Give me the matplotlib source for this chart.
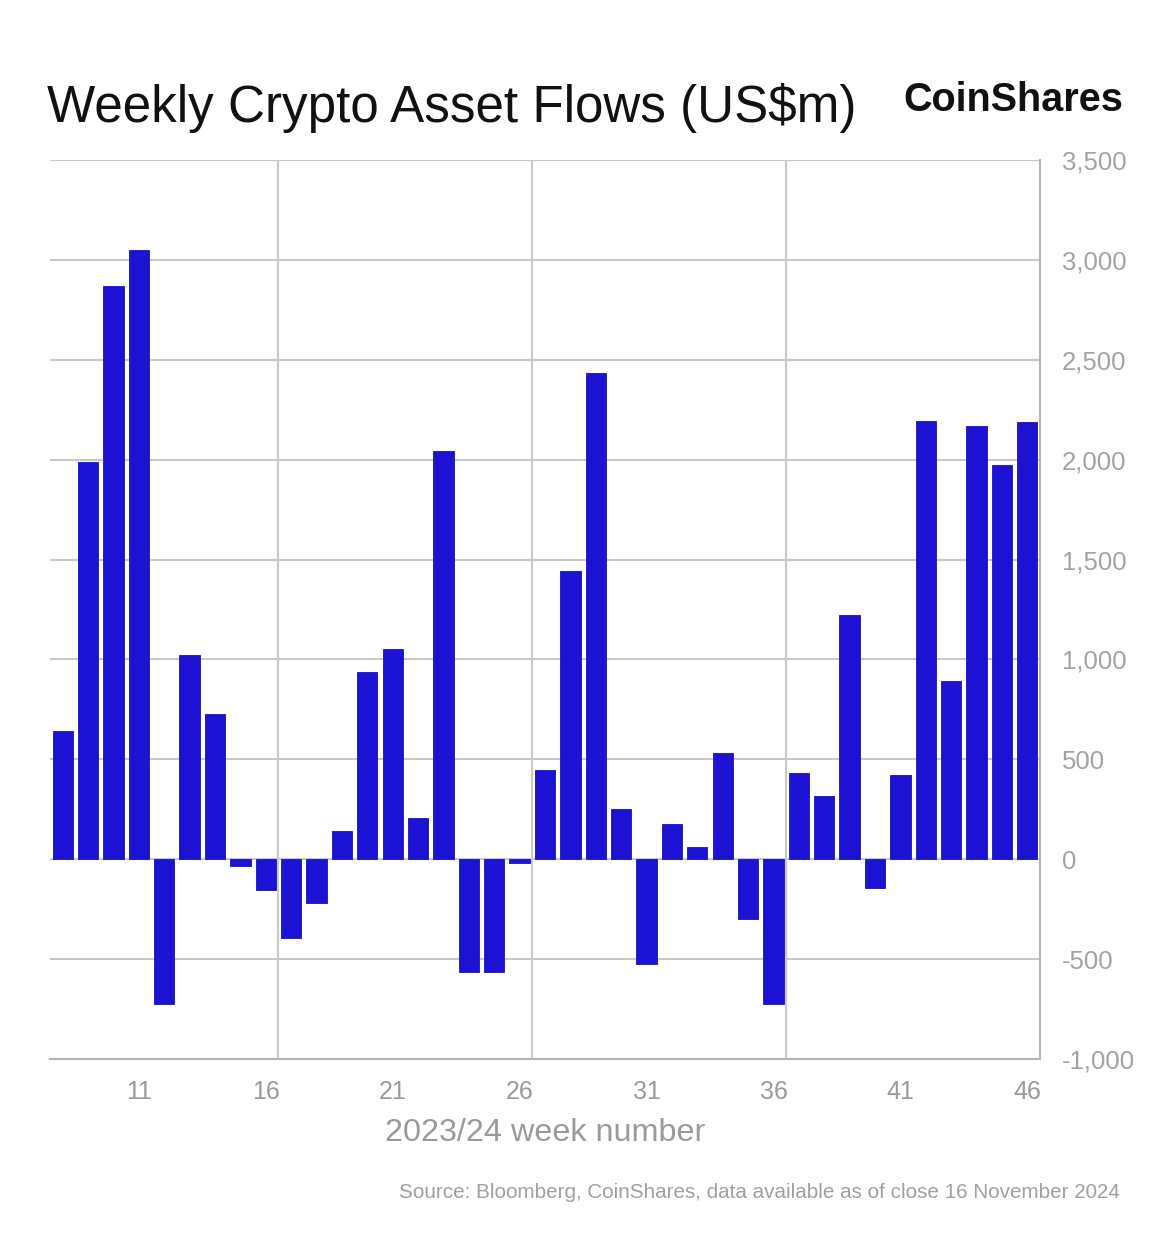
import matplotlib
matplotlib.use("Agg")
import matplotlib.pyplot as plt
from matplotlib.ticker import FuncFormatter, FixedLocator

weeks = list(range(8, 47))
flows = [640, 1990, 2870, 3050, -725, 1020, 725, -33, -155, -392,
         -220, 142, 935, 1050, 207, 2045, -567, -563, -18, 447,
         1441, 2433, 253, -522, 178, 63, 533, -300, -725, 433,
         317, 1220, -145, 422, 2195, 892, 2170, 1973, 2190]
xticks = [11, 16, 21, 26, 31, 36, 41, 46]
yticks = [-1000, -500, 0, 500, 1000, 1500, 2000, 2500, 3000, 3500]
vlines = [16.5, 26.5, 36.5]

title = "Weekly Crypto Asset Flows (US$m)"
brand = "CoinShares"
xlabel = "2023/24 week number"
source = "Source: Bloomberg, CoinShares, data available as of close 16 November 2024"

plt.rcParams['font.family'] = ['Liberation Sans', 'DejaVu Sans']

W, H = 1170, 1235
fig = plt.figure(figsize=(W / 100, H / 100), dpi=100)
fig.patch.set_facecolor('white')

left, right, top, bottom = 50, 1040, 160, 1059
ax = fig.add_axes([left / W, 1 - bottom / H, (right - left) / W, (bottom - top) / H])

grid_c = '#c9c9c9'
ax.set_axisbelow(True)
ax.bar(weeks, flows, width=0.8, color='#1b12d4', edgecolor='#1a10c0', linewidth=0.6, zorder=3)

ax.set_xlim(7.5, 46.5)
ax.set_ylim(-1000, 3500)
ax.set_xticks(xticks)
ax.xaxis.set_minor_locator(FixedLocator(vlines))
ax.set_yticks(yticks)
ax.yaxis.set_major_formatter(FuncFormatter(lambda v, p: f"{int(v):,}"))
ax.yaxis.tick_right()
ax.grid(axis='y', which='major', color=grid_c, linewidth=1.5)
ax.grid(axis='x', which='minor', color=grid_c, linewidth=1.5)
ax.tick_params(axis='both', which='both', length=0)
ax.tick_params(axis='y', pad=16, labelsize=18.5, labelcolor='#a3a3a3')
ax.tick_params(axis='x', pad=15, labelsize=18, labelcolor='#9a9a9a')
for t in ax.get_yticklabels():
    t.set_horizontalalignment('left')
for s in ['left', 'top']:
    ax.spines[s].set_visible(False)
for s in ['right', 'bottom']:
    ax.spines[s].set_color('#b5b5b5')
    ax.spines[s].set_linewidth(1.5)

fig.canvas.draw()
renderer = fig.canvas.get_renderer()


def fit_text(x, y, s, target_w, size, **kw):
    t = fig.text(x / W, 1 - y / H, s, fontsize=size, **kw)
    w = t.get_window_extent(renderer).width
    t.set_fontsize(size * target_w / w)
    return t


fit_text(47, 122, title, 808, 38, color='#111111', ha='left', va='baseline')
fit_text(903, 111, brand, 220, 30, color='#111111', ha='left', va='baseline', fontweight='bold')
fit_text(545, 1133, xlabel, 320, 22, color='#9a9a9a', ha='center', va='center')
fit_text(1120, 1193, source, 717, 13, color='#a0a0a0', ha='right', va='center')

fig.savefig('out.png', dpi=100, facecolor='white')
